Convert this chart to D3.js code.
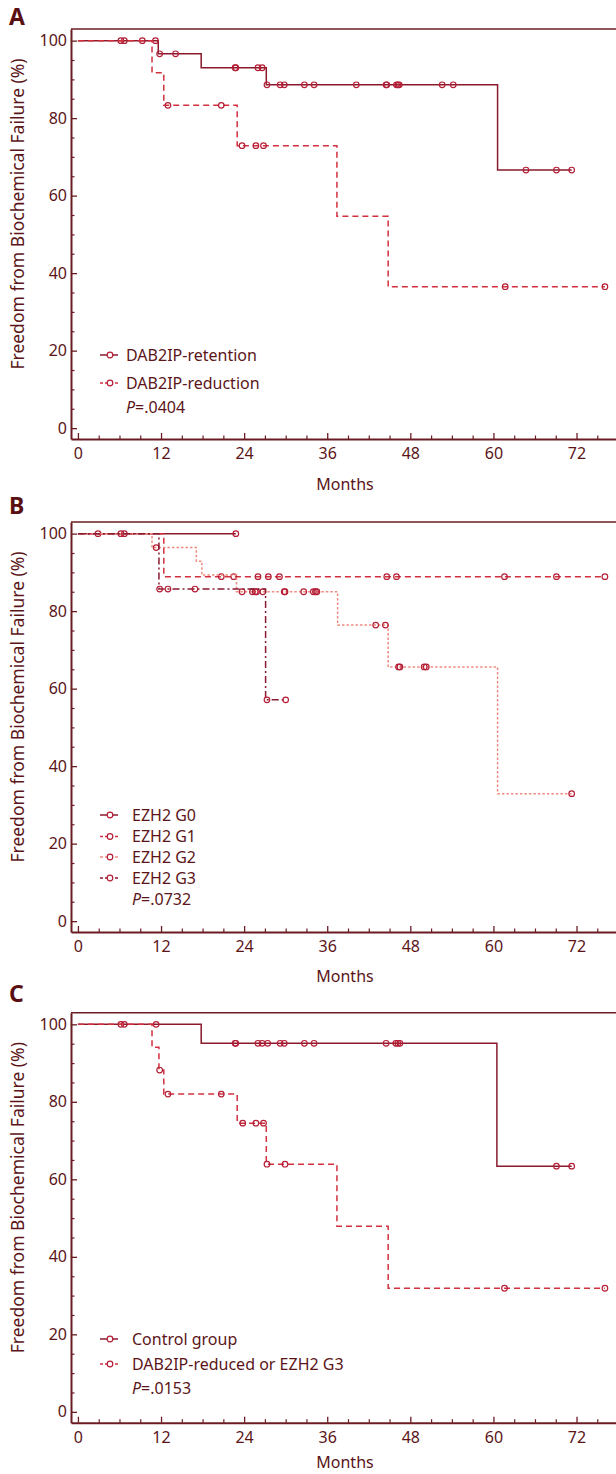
<!DOCTYPE html>
<html>
<head>
<meta charset="utf-8">
<script src="https://cdn.jsdelivr.net/npm/d3@7"></script>
<style>
  body { margin: 0; background: #fff; }
  svg text { font-family: "Noto Sans", "Open Sans", sans-serif; fill: #5b1518; }
</style>
</head>
<body>
<div id="chart"></div>
<script>
// ---- data (months, % free of biochemical failure) ----
var xTicks = [0, 12, 24, 36, 48, 60, 72];
var yTicks = [0, 20, 40, 60, 80, 100];
var panelLetters = ["A", "B", "C"];

// panel A
var retTimes = [0, 11.6, 17.8, 27.2, 60.6];
var retSurv  = [100, 96.6, 93.0, 88.6, 66.6];
var retEnd   = 71.3;
var retCens  = [6.2, 6.7, 9.3, 11.2, 11.8, 14.1, 22.7, 22.8, 26.0, 26.6, 27.3, 29.2, 29.8,
                32.7, 34.1, 40.2, 44.5, 44.6, 46.0, 46.2, 46.4, 52.6, 54.2, 64.7, 69.1, 71.3];
var redTimes = [0, 10.7, 12.4, 23.0, 37.4, 44.8];
var redSurv  = [100, 91.7, 83.3, 72.9, 54.7, 36.5];
var redEnd   = 76.1;
var redCens  = [13.0, 20.7, 23.7, 25.7, 26.8, 61.7, 76.1];

// panel B
var g0Times = [0];
var g0Surv  = [100];
var g0End   = 22.8;
var g0Cens  = [2.9, 6.2, 6.7, 22.8];
var g1Times = [0, 12.4];
var g1Surv  = [100, 88.9];
var g1End   = 76.1;
var g1Cens  = [20.7, 22.5, 26.0, 27.5, 29.1, 44.6, 46.0, 61.6, 69.1, 76.1];
var g2Times = [0, 10.7, 17.1, 17.9, 22.9, 37.5, 44.8, 60.6];
var g2Surv  = [100, 96.4, 92.9, 89.3, 85.0, 76.4, 65.6, 32.9];
var g2End   = 71.3;
var g2Cens  = [11.3, 23.7, 25.2, 25.6, 25.8, 26.7, 29.8, 29.9, 32.6, 34.0, 34.3, 34.5,
               43.0, 44.4, 46.3, 46.5, 50.0, 50.3, 71.3];
var g3Times = [0, 11.7, 27.1];
var g3Surv  = [100, 85.7, 57.1];
var g3End   = 30.0;
var g3Cens  = [11.8, 13.0, 16.9, 27.3, 30.0];

// panel C
var ctlTimes = [0, 17.8, 60.5];
var ctlSurv  = [100, 95.1, 63.4];
var ctlEnd   = 71.3;
var ctlCens  = [6.2, 6.7, 11.3, 22.7, 22.8, 26.0, 26.6, 27.4, 29.2, 29.8, 32.7, 34.1,
                44.5, 45.9, 46.2, 46.5, 69.1, 71.3];
var rdcTimes = [0, 10.7, 11.7, 12.4, 23.0, 27.2, 37.4, 44.8];
var rdcSurv  = [100, 94.1, 88.2, 82.0, 74.5, 63.9, 47.9, 31.9];
var rdcEnd   = 76.1;
var rdcCens  = [11.8, 13.0, 20.7, 23.8, 25.7, 26.8, 27.3, 29.9, 61.6, 76.1];

var legendA = ["DAB2IP-retention", "DAB2IP-reduction"];
var legendB = ["EZH2 G0", "EZH2 G1", "EZH2 G2", "EZH2 G3"];
var legendC = ["Control group", "DAB2IP-reduced or EZH2 G3"];
var pValues = [".0404", ".0732", ".0153"];

// ---- styles ----
var axisColor = "#6b1c22";
var styles = {
  solid:   { color: "#8a1a2c", dash: null },
  dashed:  { color: "#d2303f", dash: "6,4" },
  dotted:  { color: "#f08a80", dash: "2.5,2" },
  dashdot: { color: "#8a1a30", dash: "7,3,2,3" }
};
var markColor = "#b41e36";
var fontSize = "16px";

var panels = [
  { top: 29, letterY: 25, monthsY: 490, legendX: 126, legendY: [355, 383, 407],
    legend: legendA, p: pValues[0],
    series: [
      { times: retTimes, surv: retSurv, end: retEnd, cens: retCens, style: "solid" },
      { times: redTimes, surv: redSurv, end: redEnd, cens: redCens, style: "dashed" }
    ] },
  { top: 522, letterY: 514, monthsY: 982, legendX: 132, legendY: [815, 836.5, 857, 878, 899.5],
    legend: legendB, p: pValues[1],
    series: [
      { times: g0Times, surv: g0Surv, end: g0End, cens: g0Cens, style: "solid" },
      { times: g1Times, surv: g1Surv, end: g1End, cens: g1Cens, style: "dashed" },
      { times: g2Times, surv: g2Surv, end: g2End, cens: g2Cens, style: "dotted" },
      { times: g3Times, surv: g3Surv, end: g3End, cens: g3Cens, style: "dashdot" }
    ] },
  { top: 1012.7, letterY: 1002, monthsY: 1468, legendX: 132, legendY: [1339, 1364, 1388],
    legend: legendC, p: pValues[2],
    series: [
      { times: ctlTimes, surv: ctlSurv, end: ctlEnd, cens: ctlCens, style: "solid" },
      { times: rdcTimes, surv: rdcSurv, end: rdcEnd, cens: rdcCens, style: "dashed" }
    ] }
];

var width = 616, height = 1474;
var plotH = 410;

var svg = d3.select("#chart").append("svg")
  .attr("width", width)
  .attr("height", height);

var x = d3.scaleLinear().domain([-1, 77.7]).range([71, 616]);

function survAt(s, t) {
  var v = s.surv[0];
  s.times.forEach(function(tt, i) { if (tt <= t) v = s.surv[i]; });
  return v;
}

panels.forEach(function(p, pi) {
  var y = d3.scaleLinear().domain([-2.8, 103]).range([p.top + plotH, p.top]);
  var g = svg.append("g");

  // panel letter
  g.append("text")
    .attr("x", 9).attr("y", p.letterY)
    .style("font-size", "23px").style("font-weight", "bold")
    .style("fill", "#5a0f12")
    .text(panelLetters[pi]);

  // top frame line
  g.append("line")
    .attr("x1", x(-1)).attr("x2", width)
    .attr("y1", p.top).attr("y2", p.top)
    .attr("stroke", axisColor).attr("stroke-width", 1.6);

  // x axis (minor then major)
  var minor = d3.range(0, 78, 3).filter(function(d) { return d % 12 !== 0; });
  g.append("g")
    .attr("transform", "translate(0," + (p.top + plotH) + ")")
    .call(d3.axisBottom(x).tickValues(minor).tickSize(-3.5).tickSizeOuter(0).tickFormat(""))
    .call(function(a) { a.select(".domain").remove(); })
    .selectAll("line").attr("stroke", axisColor).attr("stroke-width", 1.2);
  var xa = g.append("g")
    .attr("transform", "translate(0," + (p.top + plotH) + ")")
    .call(d3.axisBottom(x).tickValues(xTicks).tickSize(-6).tickSizeOuter(0).tickPadding(9));
  xa.select(".domain").attr("stroke", axisColor).attr("stroke-width", 2);
  xa.selectAll(".tick line").attr("stroke", axisColor).attr("stroke-width", 1.3);
  xa.selectAll("text").style("font-size", fontSize).style("fill", "#5b1518");

  // y axis
  var yMinor = d3.range(5, 101, 5).filter(function(d) { return d % 20 !== 0; });
  g.append("g")
    .attr("transform", "translate(" + x(-1) + ",0)")
    .call(d3.axisLeft(y).tickValues(yMinor).tickSize(-3.5).tickSizeOuter(0).tickFormat(""))
    .call(function(a) { a.select(".domain").remove(); })
    .selectAll("line").attr("stroke", axisColor).attr("stroke-width", 1.2);
  var ya = g.append("g")
    .attr("transform", "translate(" + x(-1) + ",0)")
    .call(d3.axisLeft(y).tickValues(yTicks).tickSize(-6).tickSizeOuter(0).tickPadding(4));
  ya.select(".domain").attr("stroke", axisColor).attr("stroke-width", 2);
  ya.selectAll(".tick line").attr("stroke", axisColor).attr("stroke-width", 1.3);
  ya.selectAll("text").style("font-size", fontSize).style("fill", "#5b1518");

  // axis titles
  g.append("text")
    .attr("transform", "translate(18," + (p.top + 185) + ") rotate(-90)")
    .attr("text-anchor", "middle")
    .attr("dy", "0.35em")
    .style("font-size", "17.5px")
    .text("Freedom from Biochemical Failure (%)");
  g.append("text")
    .attr("x", 345).attr("y", p.monthsY)
    .attr("text-anchor", "middle")
    .style("font-size", fontSize)
    .text("Months");

  // curves
  var line = d3.line()
    .x(function(d) { return x(d[0]); })
    .y(function(d) { return y(d[1]); })
    .curve(d3.curveStepAfter);

  p.series.forEach(function(s) {
    var st = styles[s.style];
    var pts = s.times.map(function(t, i) { return [t, s.surv[i]]; });
    pts.push([s.end, s.surv[s.surv.length - 1]]);
    g.append("path")
      .datum(pts)
      .attr("d", line)
      .attr("fill", "none")
      .attr("stroke", st.color)
      .attr("stroke-width", 1.5)
      .attr("stroke-dasharray", st.dash);
    g.selectAll(null)
      .data(s.cens)
      .enter().append("circle")
      .attr("cx", function(d) { return x(d); })
      .attr("cy", function(d) { return y(survAt(s, d)); })
      .attr("r", 2.8)
      .attr("fill", "none")
      .attr("stroke", markColor)
      .attr("stroke-width", 1.2);
  });

  // legend
  p.series.forEach(function(s, i) {
    var st = styles[s.style];
    var ly = p.legendY[i];
    g.append("line")
      .attr("x1", 100).attr("x2", 118)
      .attr("y1", ly).attr("y2", ly)
      .attr("stroke", st.color).attr("stroke-width", 1.5)
      .attr("stroke-dasharray", s.style === "solid" ? null : "3,2");
    g.append("circle")
      .attr("cx", 110).attr("cy", ly).attr("r", 2.8)
      .attr("fill", "#fff").attr("stroke", markColor).attr("stroke-width", 1.2);
    g.append("text")
      .attr("x", p.legendX).attr("y", ly).attr("dy", "0.35em")
      .style("font-size", fontSize)
      .text(p.legend[i]);
  });
  var pt = g.append("text")
    .attr("x", p.legendX).attr("y", p.legendY[p.series.length]).attr("dy", "0.35em")
    .style("font-size", fontSize);
  pt.append("tspan").style("font-style", "italic").text("P");
  pt.append("tspan").text("=" + p.p);
});
</script>
</body>
</html>
